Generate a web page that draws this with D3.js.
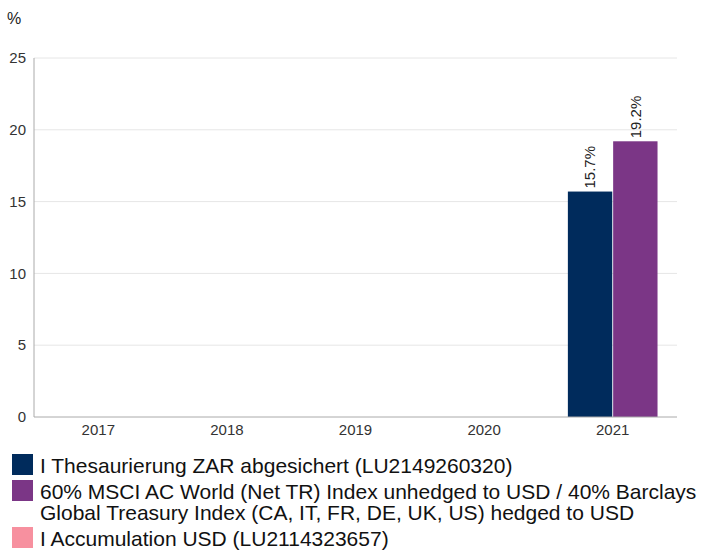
<!DOCTYPE html>
<html>
<head>
<meta charset="utf-8">
<script src="https://cdn.jsdelivr.net/npm/d3@7"></script>
<style>
  body { margin: 0; background: #fff; }
  text { font-family: "Liberation Sans", Arial, sans-serif; }
</style>
</head>
<body>
<div id="chart"></div>
<script>
// Data
var years = ["2017", "2018", "2019", "2020", "2021"];
var seriesNames = [
    "I Thesaurierung ZAR abgesichert (LU2149260320)",
    "60% MSCI AC World (Net TR) Index unhedged to USD / 40% Barclays\nGlobal Treasury Index (CA, IT, FR, DE, UK, US) hedged to USD",
    "I Accumulation USD (LU2114323657)"
];
var seriesColors = ["#002b5c", "#7b3686", "#f7909f"];
var fundValues = [null, null, null, null, 15.7];
var indexValues = [null, null, null, null, 19.2];
var yTicks = [0, 5, 10, 15, 20, 25];

var W = 706, H = 552;
var margin = {top: 58, right: 29, bottom: 135, left: 34};
var width = W - margin.left - margin.right;
var height = H - margin.top - margin.bottom;

var svg = d3.select("#chart")
            .append("svg")
            .attr("width", W)
            .attr("height", H)
            .style("display", "block");

var g = svg.append("g")
           .attr("transform", "translate(" + margin.left + "," + margin.top + ")");

// Scales
var x = d3.scaleBand().domain(years).range([0, width]);
var xInner = d3.scaleBand().domain([0, 1]).range([0, x.bandwidth()]).paddingOuter(0.43).paddingInner(0.02);
var y = d3.scaleLinear().domain([0, 25]).range([height, 0]);

// Grid
g.append("g")
 .selectAll("line")
 .data(yTicks.slice(1))
 .enter().append("line")
 .attr("x1", 0).attr("x2", width)
 .attr("y1", d => y(d)).attr("y2", d => y(d))
 .attr("stroke", "#e6e6e6");

// Y axis labels
g.append("g")
 .selectAll("text")
 .data(yTicks)
 .enter().append("text")
 .attr("x", -8)
 .attr("y", d => y(d))
 .attr("dy", "0.35em")
 .attr("text-anchor", "end")
 .attr("font-size", 15)
 .attr("fill", "#333")
 .text(d => d);

// Bars
var seriesData = [fundValues, indexValues];
seriesData.forEach(function(vals, s) {
    var data = years.map((yr, i) => ({year: yr, value: vals[i]})).filter(d => d.value != null);
    g.append("g")
     .selectAll("rect")
     .data(data)
     .enter().append("rect")
     .attr("x", d => x(d.year) + xInner(s))
     .attr("y", d => y(d.value))
     .attr("width", xInner.bandwidth())
     .attr("height", d => y(0) - y(d.value))
     .attr("fill", seriesColors[s]);

    g.append("g")
     .selectAll("text")
     .data(data)
     .enter().append("text")
     .attr("transform", d => "translate(" + (x(d.year) + xInner(s) + xInner.bandwidth() / 2) + "," + (y(d.value) - 3) + ") rotate(-90)")
     .attr("dy", "0.35em")
     .attr("font-size", 15)
     .attr("fill", "#222")
     .text(d => d.value.toFixed(1) + "%");
});

// Axis lines
g.append("line").attr("x1", 0).attr("x2", 0).attr("y1", 0).attr("y2", height).attr("stroke", "#aaa");
g.append("line").attr("x1", 0).attr("x2", width).attr("y1", height).attr("y2", height).attr("stroke", "#aaa");

// X labels
g.append("g")
 .selectAll("text")
 .data(years)
 .enter().append("text")
 .attr("x", d => x(d) + x.bandwidth() / 2)
 .attr("y", height + 18)
 .attr("text-anchor", "middle")
 .attr("font-size", 15)
 .attr("fill", "#333")
 .text(d => d);

// Unit label
svg.append("text").attr("x", 7).attr("y", 24).attr("font-size", 16).attr("fill", "#222").text("%");

// Legend
var legendTop = [454, 480, 527];
var legend = svg.append("g");
seriesNames.forEach(function(name, i) {
    legend.append("rect")
          .attr("x", 12).attr("y", legendTop[i])
          .attr("width", 21).attr("height", 21)
          .attr("fill", seriesColors[i]);
    var lines = name.split("\n");
    var t = legend.append("text")
                  .attr("x", 40)
                  .attr("y", legendTop[i] + 19)
                  .attr("font-size", 21)
                  .attr("fill", "#111");
    lines.forEach(function(l, j) {
        t.append("tspan").attr("x", 40).attr("dy", j == 0 ? 0 : 21).text(l);
    });
});
</script>
</body>
</html>
